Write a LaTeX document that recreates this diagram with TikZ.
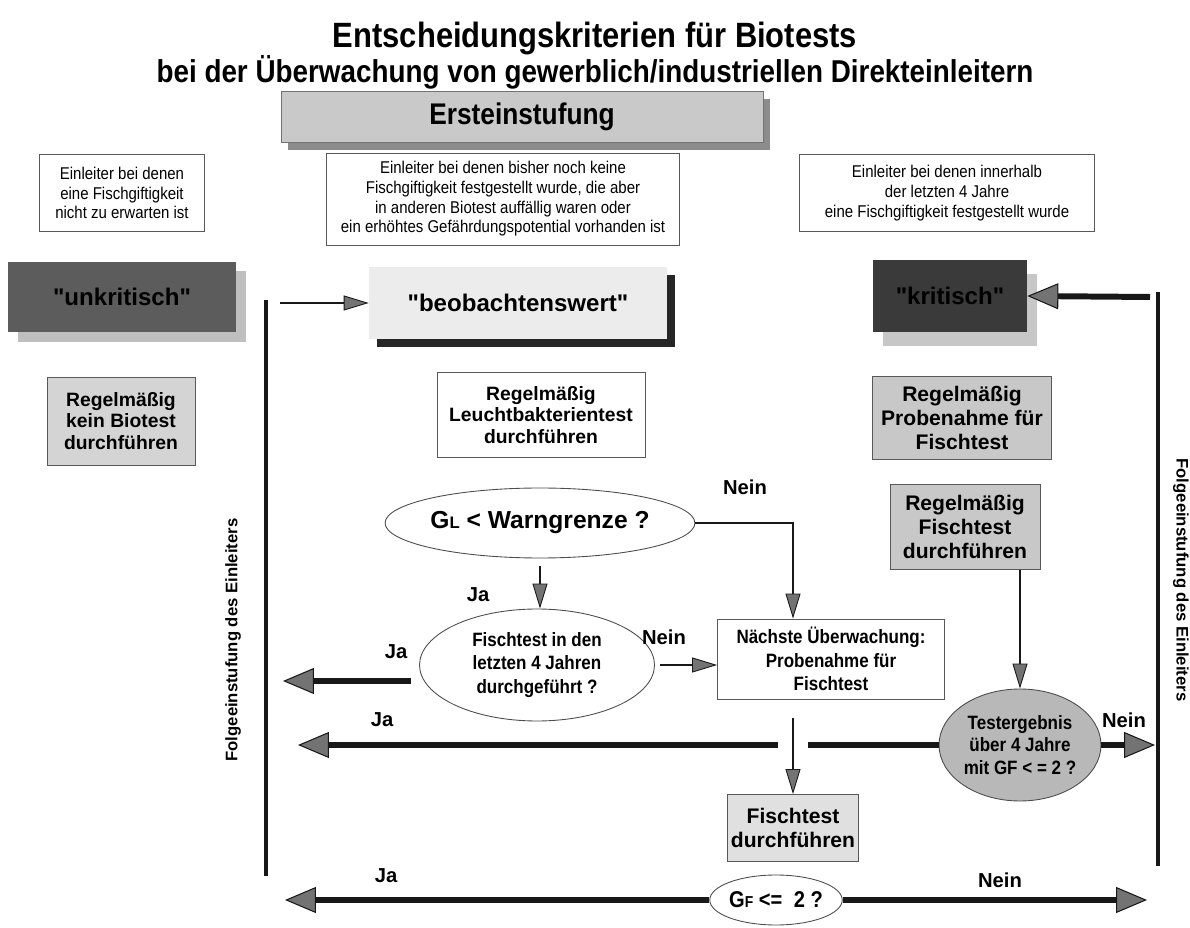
\documentclass[tikz,border=0pt]{standalone}
\usepackage{fontspec}
\setmainfont{Liberation Sans}
\newfontfamily\narrowfont[FakeStretch=0.88]{Liberation Sans}
\usepackage{tikz}
\usetikzlibrary{shapes.geometric, arrows.meta, positioning, calc, shadows}
\definecolor{ink}{RGB}{24, 24, 24}
\definecolor{lightbg}{RGB}{236, 236, 236}
\definecolor{midbg}{RGB}{200, 200, 200}
\definecolor{darkbg}{RGB}{92, 92, 92}
\definecolor{deepbg}{RGB}{58, 58, 58}

\begin{document}
\begin{tikzpicture}[
    x=0.02cm, y=-0.02cm,
    descbox/.style={rectangle, draw=black!65, line width=0.5pt, fill=white, align=center, inner sep=2pt, font={\narrowfont\fontsize{9.7}{11.2}\selectfont}},
    taskbox/.style={rectangle, draw=black!65, line width=0.5pt, align=center, inner sep=2pt, font=\fontsize{11}{12.4}\selectfont\bfseries},
    ratebox/.style={rectangle, align=center, inner sep=2pt, font=\fontsize{13.7}{15}\selectfont\bfseries},
    question/.style={ellipse, draw=black!70, line width=0.5pt, fill=white, align=center, inner sep=0pt},
    answer/.style={font=\fontsize{11.5}{13}\selectfont\bfseries},
    thickarrow/.style={line width=3.4pt, draw=ink, -{Triangle[length=0.62cm, width=0.52cm, fill=black!55, line width=0.6pt]}},
    thickline/.style={line width=3.4pt, draw=ink},
    thinarrow/.style={line width=1.3pt, draw=ink, -{Triangle[length=0.5cm, width=0.3cm, fill=black!55, line width=0.5pt]}},
    levelline/.style={line width=2.8pt, draw=ink}
]
    \useasboundingbox (0,0) rectangle (1190,928);

    \node (title1) at (595,38) [font={\narrowfont\fontsize{20}{24}\selectfont\bfseries}] {Entscheidungskriterien für Biotests};
    \node (title2) at (595,72) [font={\narrowfont\fontsize{18}{21}\selectfont\bfseries}] {bei der Überwachung von gewerblich/industriellen Direkteinleitern};

    \node (erst) at (522,117) [rectangle, draw=black!55, fill=lightbg!85!black, minimum width=9.64cm, minimum height=1.02cm, font={\narrowfont\fontsize{17}{20}\selectfont\bfseries}, drop shadow={shadow xshift=0.14cm, shadow yshift=-0.16cm, fill=black!45, opacity=1}] {Ersteinstufung};

    \node (descL) at (122,193) [descbox, minimum width=3.3cm, minimum height=1.54cm] {Einleiter bei denen\\eine Fischgiftigkeit\\nicht zu erwarten ist};
    \node (descM) at (503,199) [descbox, minimum width=7.06cm, minimum height=1.84cm] {Einleiter bei denen bisher noch keine\\Fischgiftigkeit festgestellt wurde, die aber\\in anderen Biotest auffällig waren oder\\ein erhöhtes Gefährdungspotential vorhanden ist};
    \node (descR) at (947,193) [descbox, minimum width=5.9cm, minimum height=1.54cm] {Einleiter bei denen innerhalb\\der letzten 4 Jahre\\eine Fischgiftigkeit festgestellt wurde};

    \node (unkrit) at (122,297) [ratebox, fill=darkbg, text=black, minimum width=4.58cm, minimum height=1.42cm, drop shadow={shadow xshift=0.2cm, shadow yshift=-0.2cm, fill=black!25, opacity=1}] {\textquotedbl unkritisch\textquotedbl};
    \node (beob) at (518,303) [ratebox, fill=lightbg, minimum width=5.96cm, minimum height=1.46cm, drop shadow={shadow xshift=0.16cm, shadow yshift=-0.16cm, fill=black!85, opacity=1}] {\textquotedbl beobachtenswert\textquotedbl};
    \node (krit) at (950,296) [ratebox, fill=deepbg, text=black, minimum width=3.08cm, minimum height=1.44cm, drop shadow={shadow xshift=0.2cm, shadow yshift=-0.28cm, fill=black!22, opacity=1}] {\textquotedbl kritisch\textquotedbl};

    \node (keinbio) at (121,421) [taskbox, fill=black!17, minimum width=2.96cm, minimum height=1.76cm] {Regelmäßig\\kein Biotest\\durchführen};
    \node (leucht) at (541,415) [taskbox, fill=white, minimum width=4.16cm, minimum height=1.7cm] {Regelmäßig\\Leuchtbakterientest\\durchführen};
    \node (probe) at (962,418) [taskbox, fill=midbg, minimum width=3.58cm, minimum height=1.66cm, font=\fontsize{12}{13.6}\selectfont\bfseries] {Regelmäßig\\Probenahme für\\Fischtest};
    \node (fischreg) at (965,527) [taskbox, fill=midbg, minimum width=3.0cm, minimum height=1.7cm, font=\fontsize{12}{13.6}\selectfont\bfseries] {Regelmäßig\\Fischtest\\durchführen};

    % Leuchtbakterien branch
    \node (gl) at (540,523) [question, minimum width=5.7cm, minimum height=1.4cm, font=\fontsize{14}{16}\selectfont\bfseries] {G{\fontsize{9.5}{10}\selectfont L} < Warngrenze ?};
    \node (fisch4) at (537,665) [question, minimum width=4.7cm, minimum height=2.24cm, font={\narrowfont\fontsize{11}{13.4}\selectfont\bfseries}] {Fischtest in den\\letzten 4 Jahren\\durchgeführt ?};
    \node (naechste) at (831,659) [descbox, minimum width=4.54cm, minimum height=1.6cm, font={\narrowfont\fontsize{11}{13.4}\selectfont\bfseries}] {Nächste Überwachung:\\Probenahme für\\Fischtest};
    \node (fischtest) at (793,828) [taskbox, fill=black!12, minimum width=2.4cm, minimum height=1.34cm, font=\fontsize{12}{14}\selectfont\bfseries] {Fischtest\\durchführen};
    \node (gf) at (776,900) [question, minimum width=1.96cm, minimum height=1.0cm, font={\narrowfont\fontsize{13}{15}\selectfont\bfseries}] {G{\fontsize{9}{10}\selectfont F} <=\enspace 2 ?};

    % Fischtest branch
    \node (testerg) at (1020,745) [question, fill=black!28, minimum width=3.24cm, minimum height=2.24cm, font={\narrowfont\fontsize{11}{13}\selectfont\bfseries}] {Testergebnis\\über 4 Jahre\\mit GF < = 2 ?};

    % Folgeeinstufung
    \coordinate (lineLtop) at (266,300);
    \coordinate (lineLbot) at (266,876);
    \coordinate (lineRtop) at (1158,292);
    \coordinate (lineRbot) at (1158,866);
    \draw [levelline] (lineLtop) -- (lineLbot);
    \draw [levelline] (lineRtop) -- (lineRbot);
    \node (folgeL) at (233,640) [rotate=90, font=\fontsize{9.5}{11}\selectfont\bfseries] {Folgeeinstufung des Einleiters};
    \node (folgeR) at (1181,580) [rotate=-90, font=\fontsize{9.5}{11}\selectfont\bfseries] {Folgeeinstufung des Einleiters};
    \draw [thinarrow] ($(lineLtop)+(14,3)$) -- (beob.west);
    \draw [thickarrow] ($(lineRtop)+(-8,5)$) -- (krit.east);

    \coordinate (jaEnd1) at (283,681);
    \coordinate (jaEnd2) at (298,745);
    \coordinate (jaEnd3) at (285,900);
    \coordinate (gapR) at (808,745);
    \coordinate (gapL) at (778,745);
    \coordinate (neinEnd3) at (1147,900);

    \draw [thinarrow] ($(gl.south)+(0,8)$) -- (gl.south |- fisch4.north);
    \draw [thinarrow] (gl.east) -| ($(naechste.north)+(-38,0)$);
    \draw [thinarrow] ($(fisch4.east)+(5,0)$) -- (fisch4.east -| naechste.west);
    \draw [thickarrow] ($(fisch4.west)+(-8,16)$) -- (jaEnd1);
    \draw [thinarrow] ($(naechste.south -| fischtest.north)+(0,19)$) -- (fischtest.north);
    \draw [thinarrow] (fischreg.south -| testerg.north) -- (testerg.north);
    \draw [thickarrow] (testerg.east) -- ($(testerg.east -| lineRtop)+(-3,0)$);
    \draw [thickline] (testerg.west) -- (gapR);
    \draw [thickarrow] (gapL) -- (jaEnd2);
    \draw [thickarrow] (gf.west) -- (jaEnd3);
    \draw [thickarrow] (gf.east) -- (neinEnd3);

    \node (nein1) at (745,487) [answer] {Nein};
    \node (ja1) at (478,595) [answer] {Ja};
    \node (nein2) at (664,637) [answer] {Nein};
    \node (ja2) at (396,652) [answer] {Ja};
    \node (ja3) at (382,720) [answer] {Ja};
    \node (nein3) at (1124,720) [answer] {Nein};
    \node (ja4) at (386,876) [answer] {Ja};
    \node (nein4) at (1000,880) [answer] {Nein};

\end{tikzpicture}
\end{document}
